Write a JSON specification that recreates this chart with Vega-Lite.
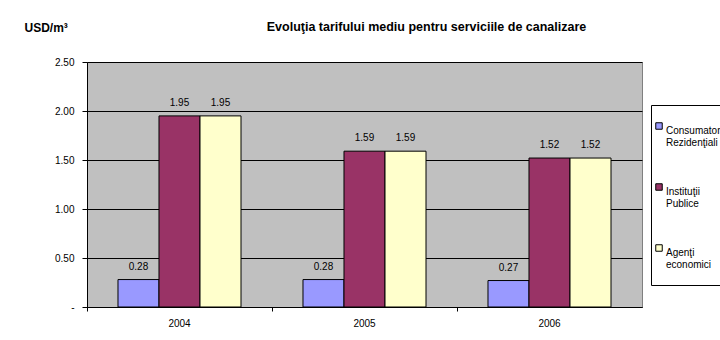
{
  "$schema": "https://vega.github.io/schema/vega-lite/v6.json",
  "autosize": {"type": "none"},
  "width": 555,
  "height": 245,
  "padding": {"left": 87, "top": 62, "right": 78, "bottom": 33},
  "background": "white",
  "title": {
    "text": "Evoluţia tarifului mediu pentru serviciile de canalizare",
    "font": "Liberation Sans",
    "fontSize": 12.5,
    "fontWeight": "bold",
    "color": "black",
    "anchor": "middle",
    "frame": "group",
    "dx": 62,
    "offset": -12
  },
  "data": {
    "values": [
      {"an": "2004", "categorie": "Consumatori Rezidenţiali", "tarif": 0.28},
      {"an": "2004", "categorie": "Instituţii Publice", "tarif": 1.95},
      {"an": "2004", "categorie": "Agenţi economici", "tarif": 1.95},
      {"an": "2005", "categorie": "Consumatori Rezidenţiali", "tarif": 0.28},
      {"an": "2005", "categorie": "Instituţii Publice", "tarif": 1.59},
      {"an": "2005", "categorie": "Agenţi economici", "tarif": 1.59},
      {"an": "2006", "categorie": "Consumatori Rezidenţiali", "tarif": 0.27},
      {"an": "2006", "categorie": "Instituţii Publice", "tarif": 1.52},
      {"an": "2006", "categorie": "Agenţi economici", "tarif": 1.52}
    ]
  },
  "encoding": {
    "x": {
      "field": "an",
      "type": "nominal",
      "scale": {"paddingInner": 0, "paddingOuter": 0},
      "axis": {
        "title": null,
        "labelAngle": 0,
        "bandPosition": 0,
        "labelOffset": 0,
        "labelFont": "Liberation Sans",
        "labelFontSize": 10,
        "labelColor": "black",
        "labelPadding": 7,
        "tickSize": 4,
        "tickColor": "black",
        "domainColor": "black",
        "grid": false
      }
    },
    "xOffset": {
      "field": "categorie",
      "type": "nominal",
      "sort": ["Consumatori Rezidenţiali", "Instituţii Publice", "Agenţi economici"],
      "scale": {"paddingInner": 0, "paddingOuter": 0.756}
    },
    "y": {
      "field": "tarif",
      "type": "quantitative",
      "scale": {"domain": [0, 2.5], "nice": false},
      "axis": {
        "values": [0, 0.5, 1, 1.5, 2, 2.5],
        "labelExpr": "datum.value == 0 ? '-' : format(datum.value, '.2f')",
        "labelFont": "Liberation Sans",
        "labelFontSize": 10,
        "labelColor": "black",
        "labelPadding": 8,
        "tickSize": 5,
        "tickColor": "black",
        "domainColor": "black",
        "grid": true,
        "gridColor": "black",
        "gridOpacity": 1,
        "gridWidth": 1,
        "title": "USD/m³",
        "titleAngle": 0,
        "titleX": -63,
        "titleY": -35,
        "titleAlign": "left",
        "titleBaseline": "middle",
        "titleFont": "Liberation Sans",
        "titleFontSize": 12,
        "titleFontWeight": "bold",
        "titleColor": "black"
      }
    }
  },
  "layer": [
    {
      "mark": {"type": "bar", "stroke": "black", "strokeWidth": 1},
      "encoding": {
        "color": {
          "field": "categorie",
          "type": "nominal",
          "sort": ["Consumatori Rezidenţiali", "Instituţii Publice", "Agenţi economici"],
          "scale": {
            "domain": ["Consumatori Rezidenţiali", "Instituţii Publice", "Agenţi economici"],
            "range": ["#9999FF", "#993366", "#FFFFCC"]
          },
          "legend": {
            "title": " ",
            "titleFontSize": 10,
            "titlePadding": 3,
            "orient": "none",
            "legendX": 564,
            "legendY": 43,
            "direction": "vertical",
            "fillColor": "white",
            "strokeColor": "black",
            "padding": 3,
            "rowPadding": 21,
            "symbolType": "square",
            "symbolSize": 42,
            "symbolStrokeColor": "black",
            "symbolStrokeWidth": 1,
            "symbolOpacity": 1,
            "labelFont": "Liberation Sans",
            "labelFontSize": 10,
            "labelLineHeight": 13,
            "labelColor": "black",
            "labelOffset": 2,
            "labelBaseline": "top",
            "labelExpr": "split(datum.label + ' ', ' ')",
            "labelLimit": 200
          }
        }
      }
    },
    {
      "mark": {
        "type": "text",
        "baseline": "bottom",
        "dy": -8,
        "font": "Liberation Sans",
        "fontSize": 10,
        "color": "black"
      },
      "encoding": {
        "text": {"field": "tarif", "type": "quantitative", "format": ".2f"}
      }
    }
  ],
  "config": {
    "view": {"fill": "#C0C0C0", "stroke": "#808080", "strokeWidth": 1}
  }
}
